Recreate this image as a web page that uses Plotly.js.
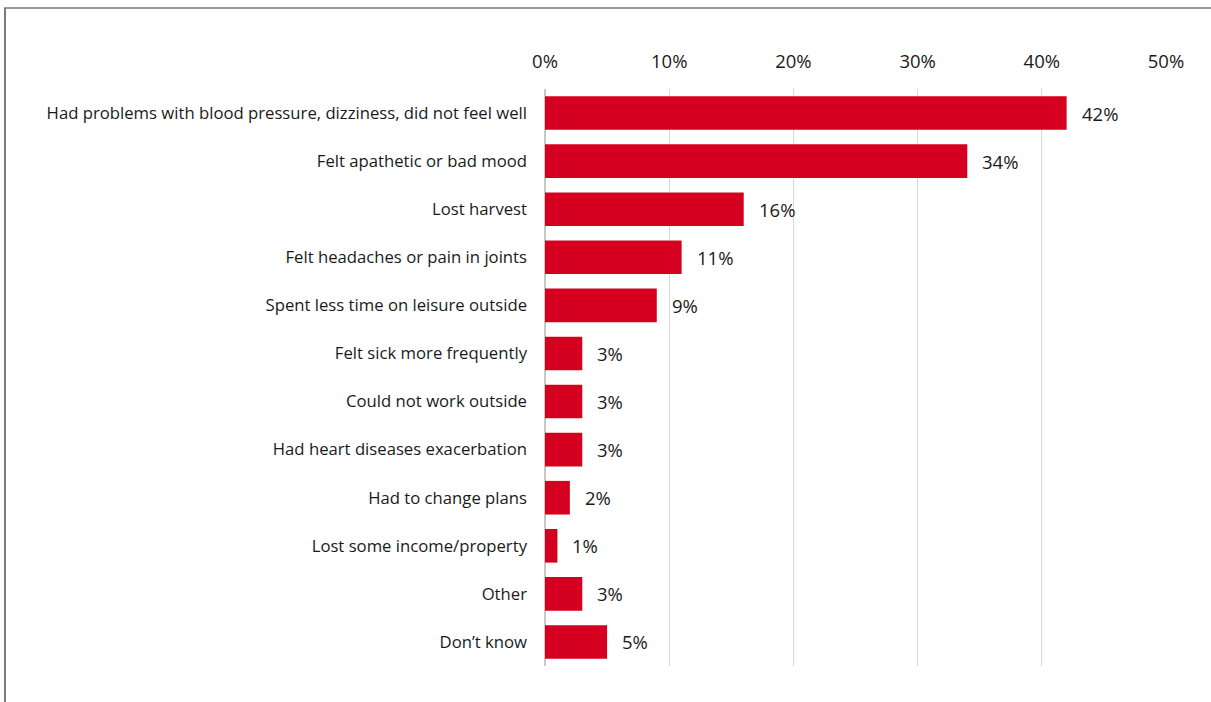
<!DOCTYPE html>
<html>
<head>
<meta charset="utf-8">
<script src="https://cdn.plot.ly/plotly-3.0.1.min.js"></script>
<style>
  html, body { margin: 0; padding: 0; background: #fff; }
  #chart { width: 1211px; height: 702px; }
</style>
</head>
<body>
<div id="chart"></div>
<script>
const categories = [
  "Had problems with blood pressure, dizziness, did not feel well",
  "Felt apathetic or bad mood",
  "Lost harvest",
  "Felt headaches or pain in joints",
  "Spent less time on leisure outside",
  "Felt sick more frequently",
  "Could not work outside",
  "Had heart diseases exacerbation",
  "Had to change plans",
  "Lost some income/property",
  "Other",
  "Don\u2019t know"
];
const values = [42, 34, 16, 11, 9, 3, 3, 3, 2, 1, 3, 5];
const tickVals = [0, 10, 20, 30, 40, 50];
const tickText = ["0%", "10%", "20%", "30%", "40%", "50%"];

const W = 1211, H = 702;
const margin = {l: 545, r: 45, t: 89, b: 36};
const pw = W - margin.l - margin.r, ph = H - margin.t - margin.b;
const px = x => (x - margin.l) / pw;
const py = y => 1 - (y - margin.t) / ph;

const FONT = "'Open Sans', Lato, sans-serif";

const trace = {
  type: "bar",
  orientation: "h",
  y: categories,
  x: values,
  marker: {color: "#D50020"},
  width: 0.7,
  hoverinfo: "none"
};

const annotations = categories.map((c, i) => ({
  x: values[i], y: c, xref: "x", yref: "y",
  text: values[i] + "%",
  showarrow: false, xanchor: "left", yanchor: "middle",
  xshift: 13,
  font: {family: FONT, size: 18.5, color: "#1a1a1a"}
}));

const layout = {
  width: W, height: H,
  margin: margin,
  paper_bgcolor: "#fff",
  plot_bgcolor: "#fff",
  showlegend: false,
  font: {family: FONT, size: 16.7, color: "#1a1a1a"},
  xaxis: {
    side: "top",
    range: [0, 50],
    tickvals: tickVals,
    ticktext: tickText,
    showgrid: true,
    gridcolor: "#d9d9d9",
    gridwidth: 1,
    zeroline: true,
    zerolinecolor: "#c8c8c8",
    zerolinewidth: 2,
    showline: false,
    ticks: "",
    ticklabelstandoff: 16,
    tickfont: {family: FONT, size: 18.5, color: "#1a1a1a"},
    fixedrange: true
  },
  yaxis: {
    autorange: "reversed",
    categoryorder: "array",
    categoryarray: categories,
    showgrid: false,
    zeroline: false,
    showline: false,
    ticks: "",
    ticklabelstandoff: 17,
    tickfont: {family: FONT, size: 16.7, color: "#1a1a1a"},
    fixedrange: true
  },
  annotations: annotations,
  shapes: [
    {type: "line", xref: "paper", yref: "paper", x0: px(5), x1: px(5), y0: py(8), y1: py(702), line: {color: "#7a7a7a", width: 2}},
    {type: "line", xref: "paper", yref: "paper", x0: px(4), x1: px(1211), y0: py(8), y1: py(8), line: {color: "#7a7a7a", width: 1.5}}
  ]
};

Plotly.newPlot("chart", [trace], layout, {displayModeBar: false, staticPlot: true});
</script>
</body>
</html>
